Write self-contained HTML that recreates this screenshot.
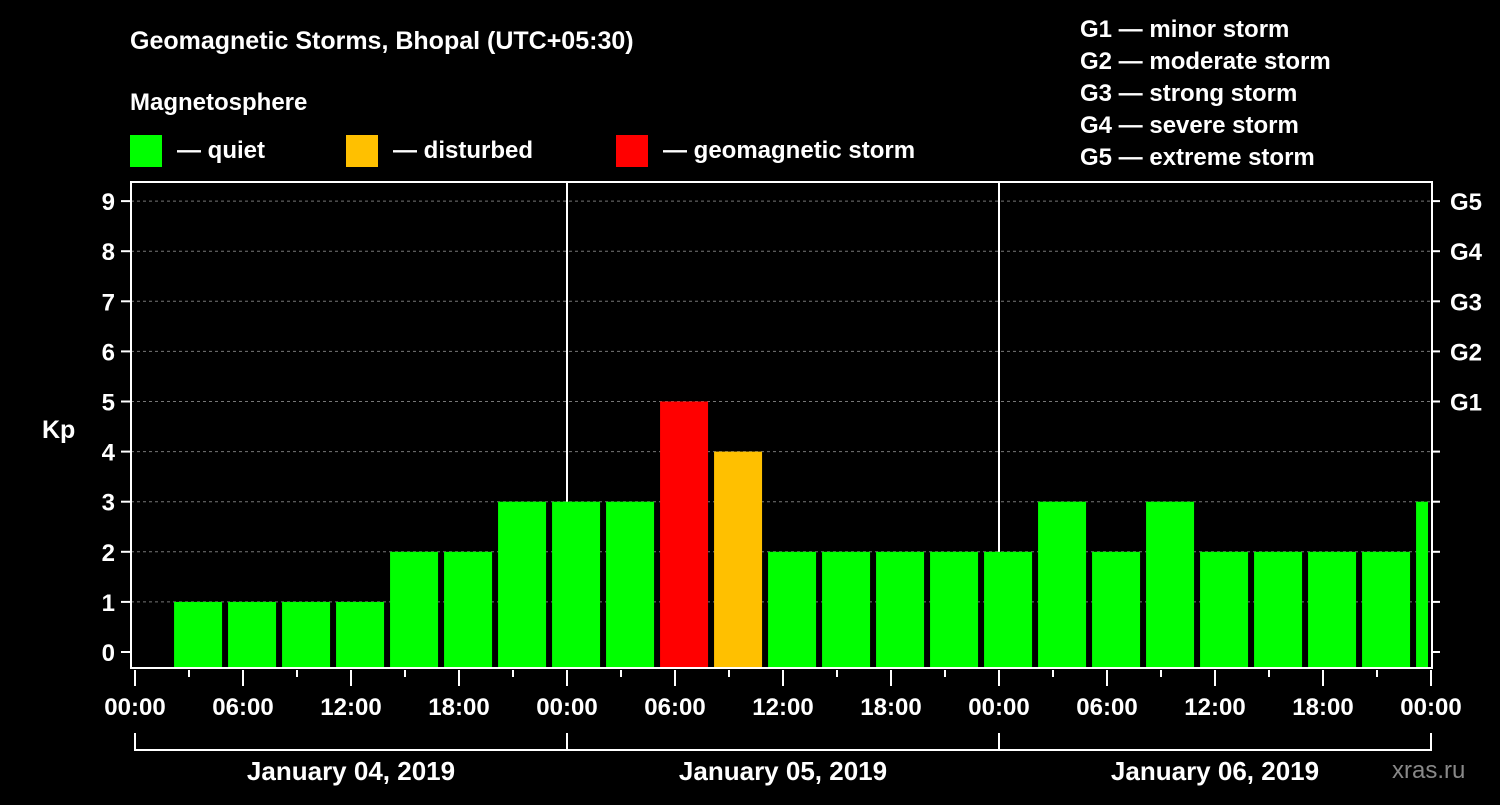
<!DOCTYPE html>
<html><head><meta charset="utf-8"><style>
body{margin:0;background:#000;width:1500px;height:800px;overflow:hidden}
svg text{font-family:"Liberation Sans",sans-serif;font-weight:bold;fill:#fff}
</style></head><body>
<svg id="c" width="1500" height="800" xmlns="http://www.w3.org/2000/svg">
<text x="130" y="49" font-size="25">Geomagnetic Storms, Bhopal (UTC+05:30)</text>
<text x="130" y="110" font-size="24">Magnetosphere</text>
<rect x="130" y="135" width="32" height="32" fill="#00ff00"/>
<text x="177" y="158" font-size="24">— quiet</text>
<rect x="346" y="135" width="32" height="32" fill="#ffc000"/>
<text x="393" y="158" font-size="24">— disturbed</text>
<rect x="616" y="135" width="32" height="32" fill="#ff0000"/>
<text x="663" y="158" font-size="24">— geomagnetic storm</text>
<g font-size="24">
<text x="1080" y="37">G1 — minor storm</text>
<text x="1080" y="69">G2 — moderate storm</text>
<text x="1080" y="101">G3 — strong storm</text>
<text x="1080" y="133">G4 — severe storm</text>
<text x="1080" y="165">G5 — extreme storm</text>
</g>
<text x="42" y="438" font-size="25">Kp</text>
<text x="1392" y="778" font-size="24" fill="#888" style="fill:#888;font-weight:normal">xras.ru</text>
<g id="grid"></g><g id="bars"></g><g id="axes"></g>
</svg>
<script>
const kpValues=[1,1,1,1,2,2,3,3,3,5,4,2,2,2,2,2,3,2,3,2,2,2,2,3];
const yTicks=[0,1,2,3,4,5,6,7,8,9];
const gLabels=["G1","G2","G3","G4","G5"];
const gLevels=[5,6,7,8,9];
const xTickLabels=["00:00","06:00","12:00","18:00","00:00","06:00","12:00","18:00","00:00","06:00","12:00","18:00","00:00"];
const dateLabels=["January 04, 2019","January 05, 2019","January 06, 2019"];
const NS="http://www.w3.org/2000/svg";
const X0=135,PXH=18,Y0=652,PXK=50.1,L=131,R=1432,T=182,B=668;
const x=h=>X0+h*PXH, y=k=>Y0-k*PXK;
function mk(tag,a,p){const e=document.createElementNS(NS,tag);for(const k in a)e.setAttribute(k,a[k]);p.appendChild(e);return e;}
const grid=document.getElementById('grid'),bars=document.getElementById('bars'),axes=document.getElementById('axes');
yTicks.forEach(k=>{if(k>0){const g=mk('line',{x1:L,x2:R,y1:y(k),y2:y(k),stroke:'#777','stroke-dasharray':'3,3'},grid);

}
const t=mk('line',{x1:L-10,x2:L,y1:y(k),y2:y(k),stroke:'#fff','stroke-width':2},axes);


const t2=mk('line',{x1:R,x2:R+8,y1:y(k),y2:y(k),stroke:'#fff','stroke-width':2},axes);


const lb=mk('text',{x:L-16,y:y(k)+9,'font-size':24,'text-anchor':'end'},axes);lb.textContent=k;

});
gLabels.forEach((g,i)=>{const lb=mk('text',{x:1450,y:y(gLevels[i])+9,'font-size':24},axes);lb.textContent=g;

});
[1,2].forEach(d=>{const v=mk('line',{x1:x(d*24),x2:x(d*24),y1:T,y2:B,stroke:'#fff','stroke-width':2},grid);

});
kpValues.forEach((v,i)=>{const x1=x(2.17+i*3),x2=Math.min(x1+48,R-4);
const c=v>=5?'#ff0000':v>=4?'#ffc000':'#00ff00';
const r=mk('rect',{x:x1,y:y(v),width:x2-x1,height:B-1-y(v),fill:c},bars);

});
const fr=mk('rect',{x:L,y:T,width:R-L,height:B-T,fill:'none',stroke:'#fff','stroke-width':2},axes);


for(let h=0;h<=72;h+=3){const maj=h%6==0;const t=mk('line',{x1:x(h),x2:x(h),y1:B+2,y2:B+(maj?18:9),stroke:'#fff','stroke-width':2},axes);

}
xTickLabels.forEach((s,i)=>{const lb=mk('text',{x:x(i*6),y:715,'font-size':24,'text-anchor':'middle'},axes);lb.textContent=s;

});
const br=mk('path',{d:`M${x(0)} 733V750H${x(72)}V733M${x(24)} 733V750M${x(48)} 733V750`,fill:'none',stroke:'#fff','stroke-width':2},axes);


dateLabels.forEach((s,i)=>{const lb=mk('text',{x:x(i*24+12),y:780,'font-size':26,'text-anchor':'middle'},axes);lb.textContent=s;

});
</script>
</body></html>
